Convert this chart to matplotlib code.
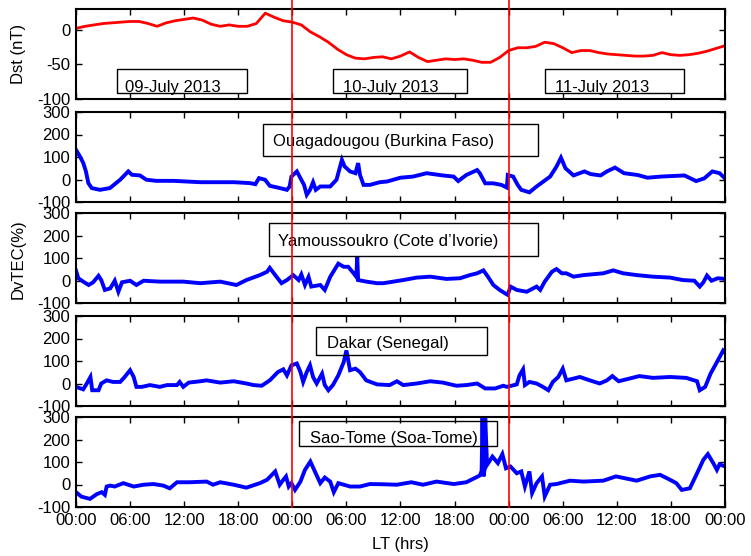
import matplotlib
matplotlib.use("Agg")
import matplotlib.pyplot as plt
import matplotlib.transforms as mtransforms
from matplotlib.patches import Rectangle
from matplotlib.lines import Line2D

plt.rcParams['font.family'] = ['Liberation Sans', 'DejaVu Sans']
plt.rcParams['font.size'] = 12
plt.rcParams['axes.unicode_minus'] = False

# ---- data (hours of local time from 09 July 2013 00:00) ----
dst_hours = list(range(73))
dst_values = [2, 5, 7, 9, 10, 11, 12, 12, 9, 5, 10, 13, 15, 17, 14, 8, 5, 7, 5, 5,
              9, 24, 18, 13, 11, 7, -3, -10, -18, -28, -36, -41, -42, -40, -39, -42,
              -38, -32, -40, -46, -44, -42, -43, -42, -44, -47, -47, -40, -30, -26,
              -26, -24, -18, -20, -26, -33, -30, -30, -33, -35, -36, -37, -38, -38,
              -37, -33, -36, -37, -36, -34, -31, -27, -23]

ouaga_hours = [0, 0.44, 0.81, 1.1, 1.37, 1.74, 2.66, 3.77, 4.9, 5.8, 6.2, 7.1, 7.8, 8.9,
               10.8, 12.3, 13.8, 15.6, 17.5, 19.3, 19.9, 20.3, 20.97, 21.5, 22.6, 23.4,
               23.7, 23.9, 24.5, 24.9, 25.3, 25.6, 25.96, 26.3, 26.6, 27.1, 28.2, 28.9,
               29.5, 29.8, 30.4, 31, 31.3, 31.5, 31.9, 32.6, 33.7,
               34.5, 36, 37.4, 38.9, 40.7, 41.9, 42.4, 43.3, 44.5, 44.8, 45.4, 46.3,
               47.2, 47.8, 47.9, 48.5, 49, 49.4, 50.3, 51.1, 52.6, 53.3, 53.8, 54.3,
               55.2, 56.4, 57.1, 58.2, 58.9, 59.8, 60.8, 62.3, 63.4, 64.9, 67.5, 68.8,
               69.7, 70.6, 71.4, 72]
ouaga_tec = [132, 102, 73, 36, -16, -38, -46, -38, -1, 36, 21, 18, -1, -6,
             -6, -9, -12, -12, -12, -16, -21, 6, -1, -28, -38, -46,
             -31, 13, 36, 6, -24, -68, -46, -12, -46, -31, -31, -1,
             87, 58, 36, 28, 73, 21, -24, -24, -12,
             -9, 8, 13, 28, 18, 13, -7, 20, 42, 28, -17, -17,
             -24, -36, 20, 13, -24, -46, -57, -31, 13, 57, 97, 50,
             18, 36, 24, 18, 36, 53, 28, 20, 8, 13, 18, -7,
             5, 36, 28, 5]

yamou_hours = [0, 0.26, 0.8, 1.4, 1.9, 2.5, 2.8, 3.2, 3.8, 4.3, 4.7, 5.1, 6, 6.7, 7.5,
               9.3, 11.9, 13.8, 16, 17.8, 18.9, 20.4, 21.2, 21.5, 22.1, 22.8, 23.4,
               24.1, 24.7, 25, 25.4, 25.8, 26.1, 27.1, 27.6, 28.2, 29.1, 29.7, 30.2,
               30.8, 31.1, 31.2, 31.3, 32.2, 33.4,
               34.1, 36.3, 37.8, 39.3, 41.1, 42.6, 43.7, 44.5, 45.2, 45.7, 46.3, 47,
               47.6, 47.9, 48.2, 48.9, 50, 51.1, 51.5, 52, 52.8, 53.3, 53.9, 54.4,
               55.2, 56.3, 58.5, 59.6, 60.7, 62.2, 64, 65.9, 67.3, 68.6, 69.2, 69.6,
               70, 70.5, 71.2, 72]
yamou_tec = [44, 10, -5, -20, -8, 21, 2, -42, -35, -1, -50, -8, -1, -20, -1,
             -5, -5, -12, -5, -20, 2, 24, 39, 56, 24, -12, 2,
             24, 2, 27, -20, 16, -27, -20, -42, 16, 75, 61, 61,
             32, 16, 108, 2, -5, -12,
             -12, 2, 13, 17, 7, 10, 24, 32, 45, 17, -20, -42,
             -57, -64, -27, -42, -50, -27, -42, -5, 39, 51, 32, 32,
             17, 24, 32, 45, 32, 24, 17, 13, 2, -1, -27, -8,
             22, -1, 10, 7]

dakar_hours = [0, 0.8, 1.2, 1.6, 1.8, 2.5, 2.8, 3.4, 4.1, 4.9, 5.4, 6, 6.4, 6.7, 7.3,
               8.2, 9.3, 10.1, 11.2, 11.5, 11.9, 12.5, 13.8, 14.5, 16, 17.5, 18.9,
               19.7, 20.6, 21.5, 22.4, 23, 23.4, 23.9, 24.5, 24.9, 25.2, 25.6, 25.96,
               26.3, 26.7, 27.3, 27.6, 28, 28.5, 29.1, 29.7, 30, 30.4, 31, 31.5, 32.2,
               33.4, 34.8, 35.6, 36.3, 37.8, 39.3, 40.7, 42.2, 43.3, 44.5, 45.4, 46.5,
               47.4, 47.8, 48.9, 49.2, 49.6, 49.8, 50.3, 51.1, 51.8, 52.4, 52.9, 53.5,
               54, 54.4, 55.2, 55.9, 57, 58.1, 58.9, 59.5, 60.2, 61.4, 62.5, 64, 65.9,
               67.7, 68.9, 69.2, 69.8, 70.4, 71.1, 71.8, 72]
dakar_tec = [-15, -26, 0, 29, -30, -30, 0, 14, 7, 7, 29, 59, 29, -15, -15,
             -7, -15, -7, -7, 7, -15, 4, 10, 14, 4, 10, 0,
             -7, -10, 14, 51, 63, 36, 81, 89, 51, 7, 51, 81,
             29, 0, 44, -7, -30, -7, 36, 95, 147, 59, 66, 51, 14,
             -4, -7, 10, -7, 0, 10, 4, -10, -7, 0, -22, -22,
             -10, -15, -4, 36, 63, -7, 7, 0, -15, -30, 7, 29,
             66, 14, 22, 29, 14, 0, 14, 33, 10, 22, 33, 25, 29,
             25, 10, -30, -15, 44, 95, 147, 140]

saotome_hours = [0, 0.6, 1.55, 2.3, 2.85, 3.2, 3.4, 3.8, 4.3, 5.25, 6.4, 7.5, 8.6, 9.7,
                 10.4, 11.2, 12.6, 14.5, 15.2, 16, 17.5, 18.9, 20.4, 21.2, 22.1, 22.6,
                 23, 23.3, 23.6, 23.9, 24.3, 24.9, 25.4, 26, 26.5, 27.1, 27.6, 28.2,
                 28.6, 29.1, 30.4, 31.5, 32.6, 34.1, 35.6, 37.2, 38.5, 40, 41.9, 43.3,
                 44.8, 45.0, 45.1, 45.2, 45.3, 45.4, 45.6, 46.2, 46.8, 47.3, 47.7, 48.2,
                 48.9, 49.4, 49.8, 50.3, 50.6, 51.1, 51.7, 52, 52.6, 53.3, 54.8, 56.3,
                 58.5, 59.9, 62.2, 63.7, 64.8, 65.9, 66.6, 67.2, 68.1, 68.9, 69.6, 70.1,
                 70.7, 71.1, 71.4, 72]
saotome_tec = [-34, -54, -64, -43, -34, -46, -9, -5, -9, 6, -9, -1, 2, -5,
               -17, 10, 10, 13, -1, 10, -1, -14, 6, 21, 58, -1,
               21, 36, -9, 6, -24, 13, 65, 102, 58, 6, 31, 13,
               -34, 6, -9, -9, 2, 1, -1, 10, -1, 13, 2, 10,
               40, 60, 300, 36, 60, 300, 87, 124, 95, 135, 72, 80,
               50, 58, -9, 58, -38, 6, 36, -53, -1, 2, 17, 13,
               17, 36, 17, 36, 43, 21, 6, -24, -17, 50, 110, 135,
               95, 65, 90, 80]

stations = ["Ouagadougou (Burkina Faso)", "Yamoussoukro (Cote d\u2019Ivorie)",
            "Dakar (Senegal)", "Sao-Tome (Soa-Tome)"]
station_hours = [ouaga_hours, yamou_hours, dakar_hours, saotome_hours]
station_tec = [ouaga_tec, yamou_tec, dakar_tec, saotome_tec]

day_labels = ["09-July 2013", "10-July 2013", "11-July 2013"]
xtick_hours = list(range(0, 73, 6))
xtick_labels = ["00:00", "06:00", "12:00", "18:00"] * 3 + ["00:00"]
day_change = [24, 48]

# ---- layout (pixel positions measured on the 751x556 reference) ----
W, H = 751, 556
left_px, right_px = 76, 725
panels_px = [(9, 99), (112, 202), (213, 303), (316, 406), (417, 507)]

fig = plt.figure(figsize=(W / 100, H / 100), dpi=100)


def style_axis(ax, show_labels):
    ax.set_xlim(0, 72)
    ax.set_xticks(xtick_hours)
    if show_labels:
        ax.set_xticklabels(xtick_labels)
    else:
        ax.set_xticklabels([])
    ax.tick_params(direction="in", top=True, right=True, length=4, width=1,
                   labelsize=12, pad=4)
    for sp in ax.spines.values():
        sp.set_linewidth(1.5)


def add_box(ax, x0, x1, y0, y1):
    ax.add_patch(Rectangle((x0, y0), x1 - x0, y1 - y0, fill=False,
                           edgecolor="black", linewidth=1, zorder=4))


axes = []
for i, (top, bot) in enumerate(panels_px):
    ax = fig.add_axes([left_px / W, 1 - bot / H, (right_px - left_px) / W, (bot - top) / H])
    axes.append(ax)

# Dst panel
ax = axes[0]
ax.plot(dst_hours, dst_values, color="red", linewidth=2)
ax.set_ylim(-100, 30)
ax.set_yticks([-100, -50, 0])
style_axis(ax, False)
box_x = [(4.55, 18.97), (28.5, 43.4), (52.0, 67.5)]
text_x = [5.4, 29.6, 53.1]
for (x0, x1), tx, lab in zip(box_x, text_x, day_labels):
    add_box(ax, x0, x1, -91, -56)
    ax.text(tx, -90, lab, ha="left", va="baseline", fontsize=12, zorder=5)

# TEC panels
label_boxes = [(20.75, 51.2, 106, 245), (21.4, 51.2, 108, 254),
               (26.6, 45.6, 125, 251), (24.7, 46.7, 169, 283)]
label_pos = [(21.85, 168), (22.4, 172), (27.8, 177), (26.0, 206)]
for k in range(4):
    ax = axes[k + 1]
    ax.plot(station_hours[k], station_tec[k], color="#0000ff", linewidth=2.8,
            solid_joinstyle="miter")
    ax.set_ylim(-100, 300)
    ax.set_yticks([-100, 0, 100, 200, 300])
    style_axis(ax, k == 3)
    x0, x1, y0, y1 = label_boxes[k]
    add_box(ax, x0, x1, y0, y1)
    ax.text(label_pos[k][0], label_pos[k][1], stations[k], ha="left", va="center",
            fontsize=12, zorder=5)

# red day separators running through all panels
trans = mtransforms.blended_transform_factory(axes[-1].transData, fig.transFigure)
for d in day_change:
    fig.add_artist(Line2D([d, d], [1 - panels_px[-1][1] / H, 1.0], transform=trans,
                          color="red", linewidth=1.2, zorder=10))

fig.text(18 / W, 1 - 54 / H, "Dst (nT)", rotation=90, ha="center", va="center", fontsize=12)
fig.text(18 / W, 1 - 259 / H, "DvTEC(%)", rotation=90, ha="center", va="center", fontsize=12)
fig.text(400 / W, 1 - 545 / H, "LT (hrs)", ha="center", va="center", fontsize=12)

fig.savefig("out.png", dpi=100)
